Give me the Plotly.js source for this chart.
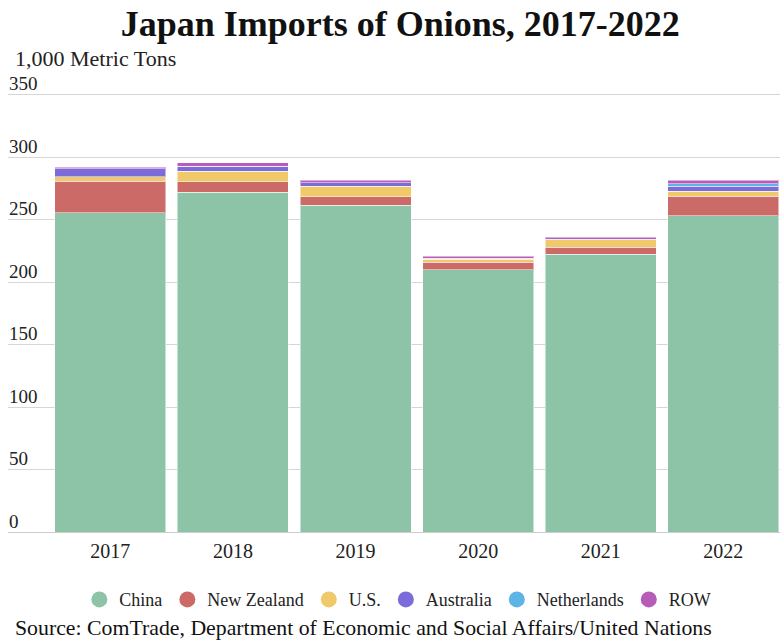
<!DOCTYPE html>
<html>
<head>
<meta charset="utf-8">
<script src="https://cdn.plot.ly/plotly-3.0.1.min.js"></script>
<style>html,body{margin:0;padding:0;background:#fff;}#chart{width:780px;height:641px;}</style>
</head>
<body>
<div id="chart"></div>
<script>
const years = ["2017", "2018", "2019", "2020", "2021", "2022"];
const china = [255.4, 271.8, 261.3, 209.8, 222.4, 253.1];
const newZealand = [25.2, 8.5, 6.8, 5.9, 5.6, 15.4];
const us = [3.5, 8.3, 8.5, 2.7, 5.8, 4.0];
const australia = [6.4, 4.0, 2.7, 0.8, 0.5, 4.1];
const netherlands = [0, 0, 0, 0, 0, 2.1];
const row = [1.3, 2.7, 2.1, 1.3, 1.4, 2.7];
const yTicks = [0, 50, 100, 150, 200, 250, 300, 350];

const series = [
  {name: "China", values: china, color: "#8dc3a7"},
  {name: "New Zealand", values: newZealand, color: "#cb6a67"},
  {name: "U.S.", values: us, color: "#f0ca6a"},
  {name: "Australia", values: australia, color: "#7a6ddb"},
  {name: "Netherlands", values: netherlands, color: "#5cb5e5"},
  {name: "ROW", values: row, color: "#b85cb9"}
];

const font = "'Liberation Serif', 'Times New Roman', serif";
const traces = [];
series.forEach(s => {
  traces.push({
    type: "bar", x: years, y: s.values, name: s.name,
    marker: {color: s.color, line: {color: "rgba(255,255,255,0.5)", width: 1}},
    showlegend: false, hoverinfo: "x+y+name"
  });
});
series.forEach(s => {
  traces.push({
    type: "scatter", mode: "markers", x: [null], y: [null], name: s.name,
    marker: {color: s.color, size: 17, symbol: "circle"},
    showlegend: true, hoverinfo: "skip"
  });
});

const layout = {
  width: 780, height: 641,
  margin: {l: 8, r: 0, t: 72, b: 109},
  paper_bgcolor: "#fff", plot_bgcolor: "#fff",
  barmode: "stack", bargap: 0.095,
  font: {family: font, color: "#222", size: 16},
  title: {text: "<b>Japan Imports of Onions, 2017-2022</b>", font: {family: font, size: 36, color: "#111"},
          x: 0.508, xref: "paper", xanchor: "center", y: 0.964, yref: "container", yanchor: "middle"},
  xaxis: {type: "category", range: [-0.835, 5.462], showgrid: false, showline: true, linecolor: "#ccc", linewidth: 1,
          ticks: "", ticklabelstandoff: 1, tickfont: {family: font, size: 20, color: "#222"}, fixedrange: true},
  yaxis: {range: [0, 368], tickvals: yTicks, ticktext: yTicks.map(String), showgrid: true, gridcolor: "#d6d6d6",
          zeroline: false, showline: false, ticks: "", ticklabelposition: "inside", ticklabelshift: -11,
          ticklabelstandoff: -2,
          tickfont: {family: font, size: 19, color: "#222"}, fixedrange: true},
  legend: {orientation: "h", x: 0.505, xanchor: "center", y: -0.107, yanchor: "top",
           font: {family: font, size: 18, color: "#222"}, itemwidth: 30, traceorder: "normal"},
  annotations: [
    {text: "1,000 Metric Tons", xref: "paper", yref: "paper", x: 0.006, y: 1.030, xanchor: "left", yanchor: "middle",
     showarrow: false, font: {family: font, size: 22, color: "#222"}},
    {text: "Source: ComTrade, Department of Economic and Social Affairs/United Nations", xref: "paper", yref: "paper",
     x: 0.006, y: -0.2087, xanchor: "left", yanchor: "middle", showarrow: false, font: {family: font, size: 21.8, color: "#111"}}
  ]
};

Plotly.newPlot("chart", traces, layout, {displayModeBar: false, staticPlot: true});
</script>
</body>
</html>
